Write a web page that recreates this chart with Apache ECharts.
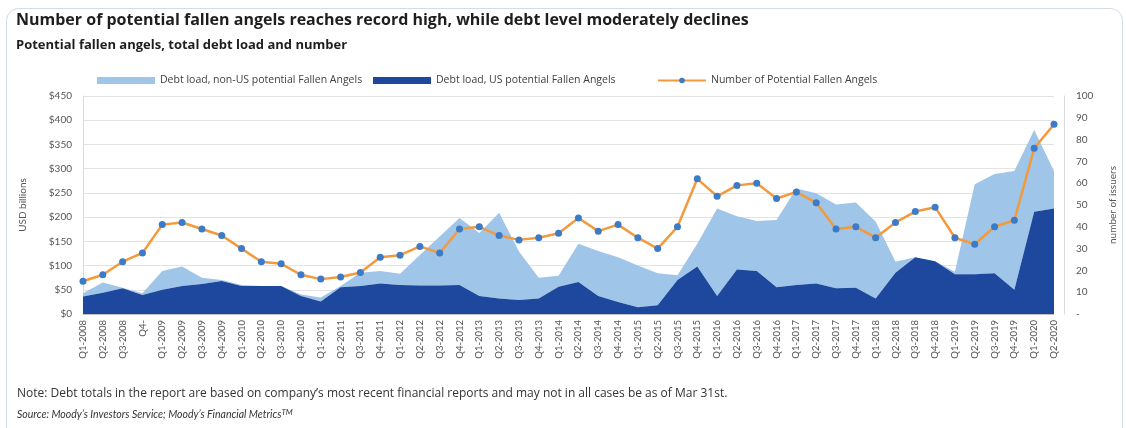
<!DOCTYPE html>
<html>
<head>
<meta charset="utf-8">
<script src="https://cdn.jsdelivr.net/npm/echarts@6/dist/echarts.min.js"></script>
<style>
html,body{margin:0;padding:0;background:#fff;}
#chart{width:1126px;height:428px;}
</style>
</head>
<body>
<div id="chart"></div>
<script>
const categories = ["Q1-2008","Q2-2008","Q3-2008","Q4-","Q1-2009","Q2-2009","Q3-2009","Q4-2009",
"Q1-2010","Q2-2010","Q3-2010","Q4-2010","Q1-2011","Q2-2011","Q3-2011","Q4-2011",
"Q1-2012","Q2-2012","Q3-2012","Q4-2012","Q1-2013","Q2-2013","Q3-2013","Q4-2013",
"Q1-2014","Q2-2014","Q3-2014","Q4-2014","Q1-2015","Q2-2015","Q3-2015","Q4-2015",
"Q1-2016","Q2-2016","Q3-2016","Q4-2016","Q1-2017","Q2-2017","Q3-2017","Q4-2017",
"Q1-2018","Q2-2018","Q3-2018","Q4-2018","Q1-2019","Q2-2019","Q3-2019","Q4-2019",
"Q1-2020","Q2-2020"];

// Debt load, US potential Fallen Angels (USD billions)
const usDebt = [36,44,53,39,50,58,62,68,58,58, 58,37,26,55,58,63,60,59,59,60,
  37,32,29,32,56,66,37,25,14,18, 70,98,37,92,89,55,60,63,53,54,
  32,85,117,109,82,82,84,50,211,218];

// Debt load, non-US potential Fallen Angels (USD billions, stacked on US)
const nonUsDebt = [7,21,1,4,39,40,13,2,2,0, 0,3,8,3,27,26,23,63,101,138,
  130,177,100,43,23,79,93,92,86,66, 10,47,181,110,103,139,199,186,173,176,
  159,23,0,0,5,186,205,245,169,77];

// Number of Potential Fallen Angels
const issuers = [15,18,24,28,41,42,39,36,30,24, 23,18,16,17,19,26,27,31,28,39,
  40,36,34,35,37,44,38,41,35,30, 40,62,54,59,60,53,56,51,39,40,
  35,42,47,49,35,32,40,43,76,87];

const leftTicks = {min:0, max:450, interval:50};
const rightTicks = {min:0, max:100, interval:10};

const FONT = '"Open Sans", Lato, sans-serif';
const AXFONT = 'Lato, "Open Sans", sans-serif';
const chart = echarts.init(document.getElementById('chart'), null, {renderer:'canvas'});

const legendText = {fontSize:10.5, color:'#404040', fontFamily:FONT};

chart.setOption({
  backgroundColor:'#fff',
  animation:false,
  graphic:[{
    type:'rect', left:4, top:6, z:-1,
    shape:{width:1116, height:440, r:12},
    style:{fill:'none', stroke:'#d3dbe3', lineWidth:1}
  }],
  title:[
    {text:'Number of potential fallen angels reaches record high, while debt level moderately declines',
     left:11, top:7, textStyle:{fontSize:16, fontWeight:'bold', color:'#1e1e1e', fontFamily:FONT}},
    {text:'Potential fallen angels, total debt load and number',
     left:11, top:34, textStyle:{fontSize:13, fontWeight:'bold', color:'#1e1e1e', fontFamily:FONT}},
    {text:'Note: Debt totals in the report are based on company\u2019s most recent financial reports and may not in all cases be as of Mar 31st.',
     left:12, top:383, textStyle:{fontSize:12, fontWeight:'normal', color:'#333', fontFamily:FONT}},
    {text:'Source: Moody\u2019s Investors Service; Moody\u2019s Financial Metrics{sup|TM}',
     left:12, top:403, textStyle:{fontSize:10.5, fontWeight:'normal', fontStyle:'italic', color:'#333', fontFamily:AXFONT,
       rich:{sup:{fontSize:8, fontStyle:'italic', color:'#333', fontFamily:AXFONT, verticalAlign:'top', padding:[0,0,6,0]}}}}
  ],
  legend:[
    {data:[{name:'Debt load, non-US potential Fallen Angels', icon:'rect'}], left:92, top:70, itemWidth:58, itemHeight:7, textStyle:legendText},
    {data:[{name:'Debt load, US potential Fallen Angels', icon:'rect'}], left:368, top:70, itemWidth:58, itemHeight:7, textStyle:legendText},
    {data:['Number of Potential Fallen Angels'], left:652, top:70, itemWidth:48, itemHeight:7, textStyle:legendText}
  ],
  grid:{left:83, right:63, top:96, bottom:114, containLabel:false},
  xAxis:{
    type:'category', data:categories, boundaryGap:false,
    axisLine:{show:true, lineStyle:{color:'#bfbfbf', width:1}},
    axisTick:{show:false},
    axisLabel:{rotate:90, interval:0, fontSize:9.5, color:'#555', fontFamily:AXFONT, margin:6}
  },
  yAxis:[
    {type:'value', min:leftTicks.min, max:leftTicks.max, interval:leftTicks.interval,
     name:'USD billions', nameLocation:'middle', nameGap:55, nameRotate:90,
     nameTextStyle:{fontSize:10, color:'#555', fontFamily:AXFONT},
     axisLine:{show:true, lineStyle:{color:'#d9d9d9'}},
     axisTick:{show:false},
     axisLabel:{formatter:v=>'$'+v, fontSize:10, color:'#555', fontFamily:AXFONT, margin:11},
     splitLine:{show:true, lineStyle:{color:'#e3e3e3', width:1}}},
    {type:'value', min:rightTicks.min, max:rightTicks.max, interval:rightTicks.interval,
     position:'right', offset:10,
     name:'number of issuers', nameLocation:'middle', nameGap:44, nameRotate:90,
     nameTextStyle:{fontSize:10, color:'#555', fontFamily:AXFONT},
     axisLine:{show:true, lineStyle:{color:'#d9d9d9'}},
     axisTick:{show:false},
     axisLabel:{formatter:v=>v===0?'-':String(v), fontSize:10, color:'#555', fontFamily:AXFONT, margin:12},
     splitLine:{show:false}}
  ],
  series:[
    {name:'Debt load, US potential Fallen Angels', type:'line', stack:'debt', yAxisIndex:0,
     data:usDebt, symbol:'none', lineStyle:{width:0}, itemStyle:{color:'#1d489d'},
     areaStyle:{color:'#1d489d', opacity:1}, z:2},
    {name:'Debt load, non-US potential Fallen Angels', type:'line', stack:'debt', yAxisIndex:0,
     data:nonUsDebt, symbol:'none', lineStyle:{width:0}, itemStyle:{color:'#9fc5e8'},
     areaStyle:{color:'#9fc5e8', opacity:1}, z:1},
    {name:'Number of Potential Fallen Angels', type:'line', yAxisIndex:1,
     data:issuers, symbol:'circle', symbolSize:7, showSymbol:true,
     lineStyle:{color:'#f39a3d', width:2.5}, itemStyle:{color:'#3b7bc8', borderWidth:0}, z:5}
  ]
});
</script>
</body>
</html>
